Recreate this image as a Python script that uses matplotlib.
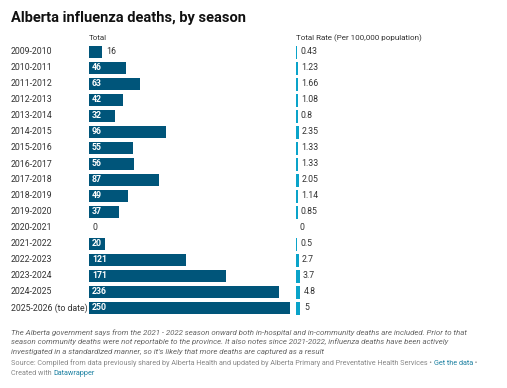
import matplotlib
matplotlib.use("Agg")
import matplotlib.pyplot as plt

seasons = ["2009-2010", "2010-2011", "2011-2012", "2012-2013", "2013-2014", "2014-2015",
           "2015-2016", "2016-2017", "2017-2018", "2018-2019", "2019-2020", "2020-2021",
           "2021-2022", "2022-2023", "2023-2024", "2024-2025", "2025-2026 (to date)"]
totals = [16, 46, 63, 42, 32, 96, 55, 56, 87, 49, 37, 0, 20, 121, 171, 236, 250]
rates = [0.43, 1.23, 1.66, 1.08, 0.8, 2.35, 1.33, 1.33, 2.05, 1.14, 0.85, 0, 0.5, 2.7, 3.7, 4.8, 5]
rate_labels = ["0.43", "1.23", "1.66", "1.08", "0.8", "2.35", "1.33", "1.33", "2.05", "1.14",
               "0.85", "0", "0.5", "2.7", "3.7", "4.8", "5"]

W, H = 507, 388
plt.rcParams['font.family'] = ['Roboto', 'DejaVu Sans']
fig = plt.figure(figsize=(W / 100, H / 100), dpi=100)
fig.patch.set_facecolor("white")

DARK = "#00557a"
LIGHT = "#0aa3c9"
TXT = "#333333"

def fx(px):
    return px / W

def fy(py):
    return 1 - py / H

n = len(seasons)
top_px, bot_px = 44, 316
ax = fig.add_axes([fx(89), fy(bot_px), fx(290 - 89), (bot_px - top_px) / H])
ax.set_xlim(0, 250)
ax.set_ylim(n - 0.5, -0.5)
ax.axis("off")
ys = list(range(n))
ax.barh(ys, totals, height=0.8, color=DARK, linewidth=0)
for y, v in zip(ys, totals):
    if v >= 20:
        ax.annotate(str(v), (0, y), xytext=(2.2, 0), textcoords="offset points",
                    va="center", ha="left", color="white", fontsize=6.3, fontweight="bold")
    else:
        ax.annotate(str(v), (v, y), xytext=(2.8, 0), textcoords="offset points",
                    va="center", ha="left", color=TXT, fontsize=6.3)

ax2 = fig.add_axes([fx(296), fy(bot_px), fx(4), (bot_px - top_px) / H])
ax2.set_xlim(0, 5)
ax2.set_ylim(n - 0.5, -0.5)
ax2.axis("off")
rbars = ax2.barh(ys, rates, height=0.8, color=LIGHT, edgecolor=LIGHT,
                 linewidth=[0.5 if r > 0 else 0 for r in rates])
for p in rbars.patches:
    p.set_antialiased(False)
for y, r, lab in zip(ys, rates, rate_labels):
    ax2.annotate(lab, (r, y), xytext=(2.8, 0), textcoords="offset points",
                 va="center", ha="left", color=TXT, fontsize=6.3, annotation_clip=False)

for y, s in zip(ys, seasons):
    fig.text(fx(11), fy(52 + 16 * y), s, va="center", ha="left", color=TXT, fontsize=6.3)

fig.text(fx(11), fy(18), "Alberta influenza deaths, by season", fontsize=10.5,
         fontweight="bold", va="center", ha="left", color="#111111")
fig.text(fx(89), fy(38.5), "Total", fontsize=5.8, va="center", ha="left", color=TXT)
fig.text(fx(296), fy(38.5), "Total Rate (Per 100,000 population)", fontsize=5.8,
         va="center", ha="left", color=TXT)

notes = ["The Alberta government says from the 2021 - 2022 season onward both in-hospital and in-community deaths are included. Prior to that",
         "season community deaths were not reportable to the province. It also notes since 2021-2022, influenza deaths have been actively",
         "investigated in a standardized manner, so it's likely that more deaths are captured as a result"]
for i, line in enumerate(notes):
    fig.text(fx(11), fy(332.5 + 9.6 * i), line, fontsize=5.7, style="italic",
             va="center", ha="left", color="#666666")

src = fig.text(fx(11), fy(363.5), "Source: Compiled from data previously shared by Alberta Health and updated by Alberta Primary and Preventative Health Services \u2022 ",
               fontsize=5.25, va="center", ha="left", color="#888888")
fig.canvas.draw()
bb = src.get_window_extent()
t2 = fig.text(bb.x1 / W, fy(363.5), "Get the data", fontsize=5.25, va="center", ha="left", color="#1d81a2")
bb2 = t2.get_window_extent()
fig.text(bb2.x1 / W, fy(363.5), " \u2022", fontsize=5.25, va="center", ha="left", color="#888888")
c1 = fig.text(fx(11), fy(373.5), "Created with ", fontsize=5.25, va="center", ha="left", color="#888888")
bb3 = c1.get_window_extent()
fig.text(bb3.x1 / W, fy(373.5), "Datawrapper", fontsize=5.25, va="center", ha="left", color="#1d81a2")

fig.savefig("out.png", dpi=100, facecolor="white")
